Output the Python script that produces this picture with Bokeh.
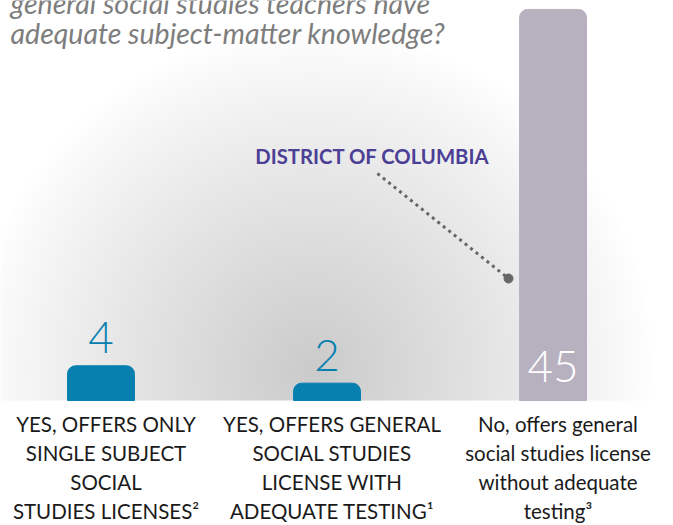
import numpy as np
from bokeh.plotting import figure
from bokeh.models import Range1d, Label, ColumnDataSource
from bokeh.core.properties import value
from bokeh.embed import file_html
from bokeh.resources import INLINE

# ---- data ----
categories = [
    "YES, OFFERS ONLY\nSINGLE SUBJECT\nSOCIAL\nSTUDIES LICENSES\u00b2",
    "YES, OFFERS GENERAL\nSOCIAL STUDIES\nLICENSE WITH\nADEQUATE TESTING\u00b9",
    "No, offers general\nsocial studies license\nwithout adequate\ntesting\u00b3",
]
counts = [4, 2, 45]
count_labels = ["4", "2", "45"]
bar_colors = ["#0780b0", "#0780b0", "#b7b1bf"]
value_colors = ["#0780b0", "#0780b0", "#ffffff"]
title_lines = ["general social studies teachers have",
               "adequate subject-matter knowledge?"]
callout_text = "DISTRICT OF COLUMBIA"
callout_point = (1.803, 14.04)
callout_start = (1.223, 26.12)
callout_label_pos = (1.201, 28.19)

FONT = "Lato"
NUM_FONT = "Lato Light"
W, H = 673, 525
x0, x1 = -0.4447, 2.533
y0, y1 = -14.38, 46.03

p = figure(width=W, height=H, x_range=Range1d(x0, x1), y_range=Range1d(y0, y1),
           output_backend="svg", toolbar_location=None, min_border=0,
           background_fill_color="white", border_fill_color="white")
p.axis.visible = False
p.grid.visible = False
p.outline_line_color = None

# ---- radial background glow (decoration) ----
GW, GH = 673, 400
px = np.arange(GW) + 0.5
py = 400 - (np.arange(GH) + 0.5)
X, Y = np.meshgrid(px, py)
r = np.sqrt((X - 312) ** 2 + (Y - 370) ** 2)
t = np.clip(1 - r / 340.0, 0, 1)
g = (255 - 52 * t ** 0.9).astype(np.uint32)
img = (255 << 24) | (g << 16) | (g << 8) | g
p.image_rgba(image=[img.astype(np.uint32)], x=x0, y=0, dw=x1 - x0, dh=y1)

# ---- bars ----
xs = list(range(len(counts)))
src = ColumnDataSource(dict(x=xs, top=counts, color=bar_colors, cat=categories))
p.vbar(x="x", top="top", bottom=0, width=0.296, color="color", source=src,
       border_radius=(8, 8, 0, 0))

# value labels
sa = ColumnDataSource(dict(x=xs[:2], y=counts[:2], lab=count_labels[:2], c=value_colors[:2]))
p.text(x="x", y="y", text="lab", text_color="c", source=sa, text_align="center",
       text_baseline="alphabetic", y_offset=-28, text_font=value(NUM_FONT),
       text_font_size="44px")
sb = ColumnDataSource(dict(x=xs[2:], y=[0], lab=count_labels[2:], c=value_colors[2:]))
p.text(x="x", y="y", text="lab", text_color="c", source=sb, text_align="center",
       text_baseline="alphabetic", y_offset=-34, text_font=value(NUM_FONT),
       text_font_size="44px")

# category labels
p.text(x="x", y=0, text="cat", source=src, text_align="center", text_baseline="top",
       x_offset=5, y_offset=11, text_font=value(FONT), text_font_size="20.5px",
       text_color="#1a1a1a", text_line_height=1.21)

# ---- callout ----
p.segment(x0=callout_start[0], y0=callout_start[1], x1=callout_point[0], y1=callout_point[1],
          line_color="#666666", line_width=3, line_dash="3 4", line_cap="butt")
p.scatter(x=[callout_point[0]], y=[callout_point[1]], size=9, color="#666666")
p.text(x=[callout_label_pos[0]], y=[callout_label_pos[1]], text=[callout_text],
       text_align="center", text_baseline="middle", text_font=value(FONT),
       text_font_style="bold", text_font_size="20.3px", text_color="#4c3f96")

# ---- title ----
for i, line in enumerate(title_lines):
    p.add_layout(Label(x=10, y=523 - 30 * i, x_units="screen", y_units="screen",
                       text=line, text_font=FONT, text_font_style="italic",
                       text_font_size="28.5px", text_color="#7d7d7d",
                       text_baseline="alphabetic"))

open("out.html", "w").write(file_html(p, INLINE))
